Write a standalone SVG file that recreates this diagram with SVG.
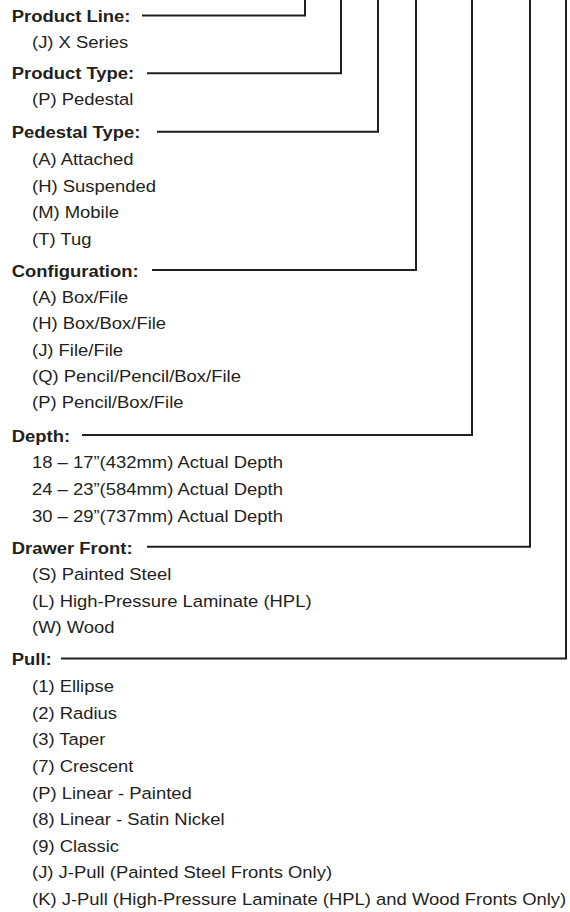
<svg xmlns="http://www.w3.org/2000/svg" width="570" height="912" viewBox="0 0 570 912">
<style>
.h{font-family:"Liberation Sans",Arial,sans-serif;font-weight:700;font-size:17px;fill:#231f20}
.i{font-family:"Liberation Sans",Arial,sans-serif;font-size:17px;fill:#231f20}
.c{fill:none;stroke:#231f20;stroke-width:2;stroke-linejoin:miter}
</style>
<rect width="570" height="912" fill="#ffffff"/>
<g id="connectors">
<path class="c" d="M142 15.6 H305 V-2"/>
<path class="c" d="M147 73.3 H341 V-2"/>
<path class="c" d="M157 131.7 H378 V-2"/>
<path class="c" d="M152 270 H416 V-2"/>
<path class="c" d="M82 435 H472 V-2"/>
<path class="c" d="M147 546.7 H530 V-2"/>
<path class="c" d="M61 658.5 H566 V-2"/>
</g>
<g transform="scale(1.085 1)">
<g id="product-line">
<text class="h" x="10.8" y="22">Product Line:</text>
<text class="i" x="29.5" y="48">(J) X Series</text>
</g>
<g id="product-type">
<text class="h" x="10.8" y="79.5">Product Type:</text>
<text class="i" x="29.5" y="105.5">(P) Pedestal</text>
</g>
<g id="pedestal-type">
<text class="h" x="10.8" y="138.3">Pedestal Type:</text>
<text class="i" x="29.5" y="165">(A) Attached</text>
<text class="i" x="29.5" y="191.6">(H) Suspended</text>
<text class="i" x="29.5" y="218.2">(M) Mobile</text>
<text class="i" x="29.5" y="244.8">(T) Tug</text>
</g>
<g id="configuration">
<text class="h" x="10.8" y="276.6">Configuration:</text>
<text class="i" x="29.5" y="303">(A) Box/File</text>
<text class="i" x="29.5" y="329.4">(H) Box/Box/File</text>
<text class="i" x="29.5" y="355.8">(J) File/File</text>
<text class="i" x="29.5" y="382.1">(Q) Pencil/Pencil/Box/File</text>
<text class="i" x="29.5" y="408.4">(P) Pencil/Box/File</text>
</g>
<g id="depth">
<text class="h" x="10.8" y="441.7">Depth:</text>
<text class="i" x="29.5" y="468.3">18 – 17”(432mm) Actual Depth</text>
<text class="i" x="29.5" y="495">24 – 23”(584mm) Actual Depth</text>
<text class="i" x="29.5" y="521.7">30 – 29”(737mm) Actual Depth</text>
</g>
<g id="drawer-front">
<text class="h" x="10.8" y="553.6">Drawer Front:</text>
<text class="i" x="29.5" y="580.2">(S) Painted Steel</text>
<text class="i" x="29.5" y="606.8">(L) High-Pressure Laminate (HPL)</text>
<text class="i" x="29.5" y="633.4">(W) Wood</text>
</g>
<g id="pull">
<text class="h" x="10.8" y="665">Pull:</text>
<text class="i" x="29.5" y="692.3">(1) Ellipse</text>
<text class="i" x="29.5" y="718.9">(2) Radius</text>
<text class="i" x="29.5" y="745.5">(3) Taper</text>
<text class="i" x="29.5" y="772.1">(7) Crescent</text>
<text class="i" x="29.5" y="798.7">(P) Linear - Painted</text>
<text class="i" x="29.5" y="825.3">(8) Linear - Satin Nickel</text>
<text class="i" x="29.5" y="851.9">(9) Classic</text>
<text class="i" x="29.5" y="878.5">(J) J-Pull (Painted Steel Fronts Only)</text>
<text class="i" x="29.5" y="905.1">(K) J-Pull (High-Pressure Laminate (HPL) and Wood Fronts Only)</text>
</g>
</g>
</svg>
